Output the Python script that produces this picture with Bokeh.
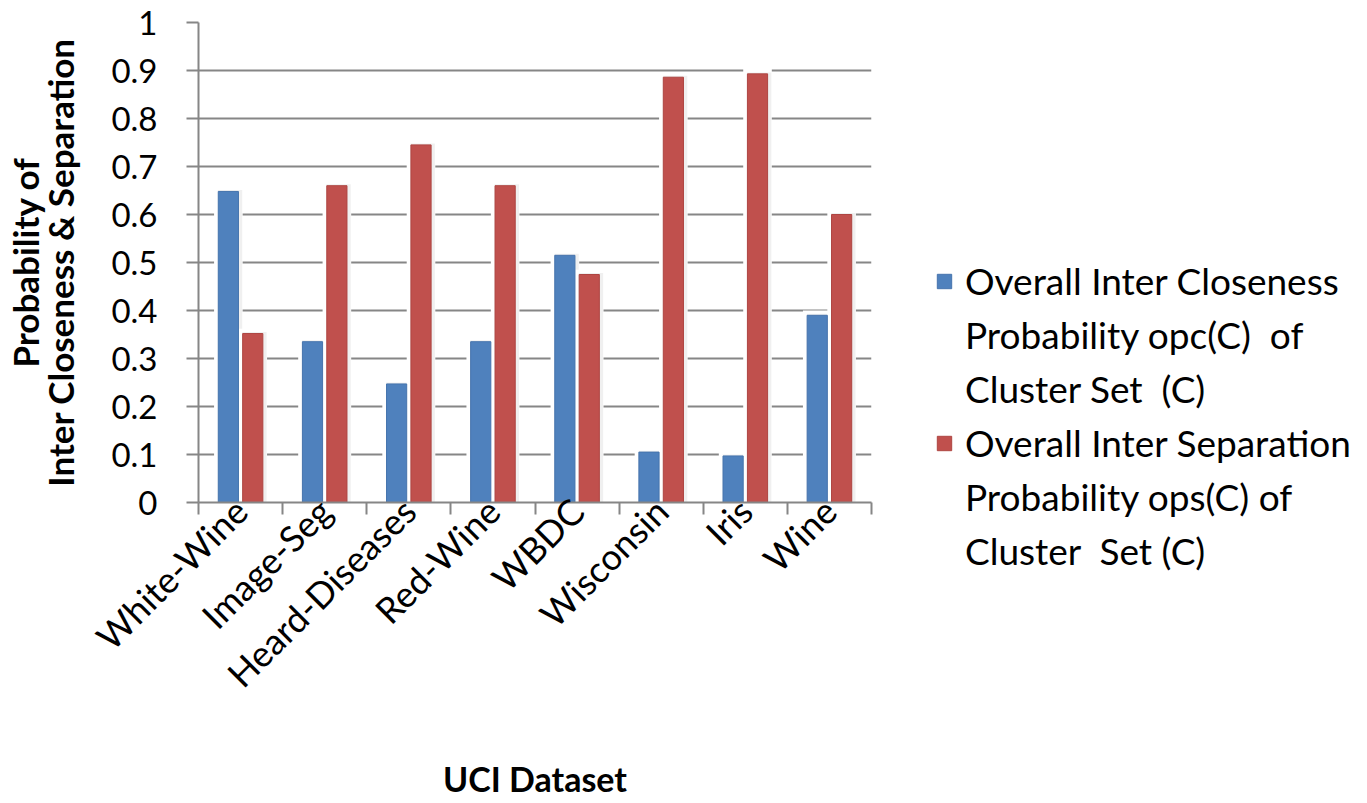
import math
import numpy as np
from bokeh.plotting import figure
from bokeh.models import FixedTicker, Legend, LegendItem, Range1d
from bokeh.embed import file_html
from bokeh.resources import INLINE

# ---- data ----
datasets = ["White-Wine", "Image-Seg", "Heard-Diseases", "Red-Wine",
            "WBDC", "Wisconsin", "Iris", "Wine"]
closeness = [0.648, 0.335, 0.247, 0.335, 0.515, 0.105, 0.097, 0.39]
separation = [0.352, 0.66, 0.745, 0.66, 0.475, 0.886, 0.893, 0.6]
y_ticks = [0, 0.1, 0.2, 0.3, 0.4, 0.5, 0.6, 0.7, 0.8, 0.9, 1.0]
y_tick_labels = ["0", "0.1", "0.2", "0.3", "0.4", "0.5", "0.6", "0.7", "0.8", "0.9", "1"]
legend_lines_closeness = ["Overall Inter Closeness", "Probability opc(C)  of", "Cluster Set  (C)"]
legend_lines_separation = ["Overall Inter Separation", "Probability ops(C) of", "Cluster  Set (C)"]
x_title = "UCI Dataset"
y_title = "Probability of\nInter Closeness & Separation"

BLUE = "#4F81BD"
BLUE_EDGE = "#4674AD"
RED = "#C0504D"
RED_EDGE = "#AE4542"
GRID = "#868686"
FONT = "Lato"

n = len(datasets)
centers = np.arange(n) + 0.5
off = 0.145
bw = 0.24

p = figure(frame_width=673, frame_height=480, x_range=Range1d(0, n), y_range=Range1d(0, 1),
           output_backend="svg", toolbar_location=None,
           min_border_left=197, min_border_right=10, min_border_top=22,
           min_border_bottom=0)
p.outline_line_color = None
p.background_fill_color = "white"

# halos / shadows
for xs, vals in ((centers - off, closeness), (centers + off, separation)):
    p.vbar(x=xs, top=np.array(vals) + 0.01, bottom=0, width=bw + 0.1,
           fill_color="white", line_color=None)
    p.vbar(x=xs + 0.02, top=np.array(vals) + 0.003, bottom=0, width=bw + 0.05,
           fill_color="#000000", fill_alpha=0.06, line_color=None)

r1 = p.vbar(x=centers - off, top=closeness, bottom=0, width=bw,
            fill_color=BLUE, line_color=BLUE_EDGE, line_width=1)
r2 = p.vbar(x=centers + off, top=separation, bottom=0, width=bw,
            fill_color=RED, line_color=RED_EDGE, line_width=1)
# transparent glyph used for continuation lines of the legend labels
r_blank = p.vbar(x=[], top=[], bottom=0, width=bw, fill_alpha=0, line_alpha=0)

# x axis
xa = p.xaxis[0]
xa.ticker = FixedTicker(ticks=list(centers), minor_ticks=list(range(n + 1)))
xa.major_label_overrides = {float(c): d for c, d in zip(centers, datasets)}
xa.major_label_orientation = math.pi / 4
xa.major_tick_out = 0
xa.major_tick_in = 0
xa.minor_tick_out = 12
xa.minor_tick_in = 0
xa.minor_tick_line_color = GRID
xa.minor_tick_line_width = 2
xa.axis_line_color = GRID
xa.axis_line_width = 2
xa.major_label_text_font = FONT
xa.major_label_text_font_size = "36px"
xa.major_label_text_color = "black"
xa.major_label_standoff = -10
xa.axis_label = x_title
xa.axis_label_text_font = FONT
xa.axis_label_text_font_style = "bold"
xa.axis_label_text_font_size = "34px"
xa.axis_label_text_color = "black"
xa.axis_label_standoff = 44

# y axis
ya = p.yaxis[0]
ya.ticker = FixedTicker(ticks=y_ticks, minor_ticks=[])
ya.major_label_overrides = {float(t): l for t, l in zip(y_ticks, y_tick_labels)}
ya.major_tick_out = 12
ya.major_tick_in = 0
ya.major_tick_line_color = GRID
ya.major_tick_line_width = 2
ya.axis_line_color = GRID
ya.axis_line_width = 2
ya.major_label_text_font = FONT
ya.major_label_text_font_size = "33px"
ya.major_label_text_color = "black"
ya.major_label_standoff = 29
ya.axis_label = y_title
ya.axis_label_text_font = FONT
ya.axis_label_text_font_style = "bold"
ya.axis_label_text_font_size = "35px"
ya.axis_label_text_line_height = 0.85
ya.axis_label_text_color = "black"
ya.axis_label_standoff = 27

p.xgrid.visible = False
p.ygrid.ticker = FixedTicker(ticks=y_ticks, minor_ticks=[])
p.ygrid.grid_line_color = GRID
p.ygrid.grid_line_width = 2

items = []
for k, line in enumerate(legend_lines_closeness):
    items.append(LegendItem(label=line, renderers=[r1 if k == 0 else r_blank]))
for k, line in enumerate(legend_lines_separation):
    items.append(LegendItem(label=line, renderers=[r2 if k == 0 else r_blank]))

legend = Legend(items=items, location=(64, -71), orientation="vertical")
legend.border_line_color = None
legend.background_fill_alpha = 0
legend.padding = 0
legend.margin = 0
legend.spacing = 9
legend.glyph_width = 18
legend.glyph_height = 18
legend.label_standoff = 12
legend.label_text_font = FONT
legend.label_text_font_size = "37px"
legend.label_text_color = "black"
p.add_layout(legend, "right")

open("out.html", "w").write(file_html(p, INLINE))
